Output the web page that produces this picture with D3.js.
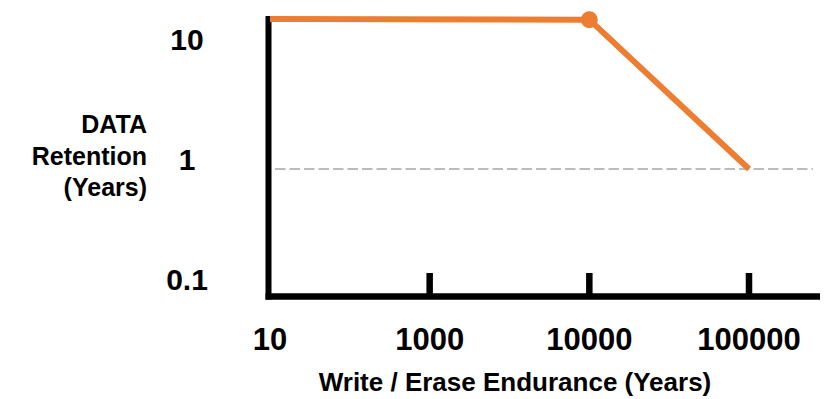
<!DOCTYPE html>
<html>
<head>
<meta charset="utf-8">
<script src="https://cdn.jsdelivr.net/npm/d3@7/dist/d3.min.js"></script>
<style>
  html, body { margin: 0; padding: 0; background: #fff; }
  text { font-family: "Liberation Sans", Arial, sans-serif; font-weight: bold; fill: #000; }
</style>
</head>
<body>
<div id="chart"></div>
<script>
// categories on the endurance axis (equally spaced, not a true log axis)
const enduranceLabels = ["10", "1000", "10000", "100000"];
// retention tick labels, top to bottom
const retentionLabels = ["10", "1", "0.1"];
// the retention curve
const curveX = ["10", "10000", "100000"];
const curveY = [10, 9.9, 1];
const markerAt = "10000";
const referenceLevel = 1;

const width = 828, height = 399;
const ORANGE = "#ED7D31";

const svg = d3.select("#chart").append("svg")
  .attr("width", width)
  .attr("height", height);

const x = d3.scalePoint().domain(enduranceLabels).range([270, 749]);
const y = d3.scaleLog().domain([1, 10]).range([169, 19]);
// labels on the left sit on their own even spacing
const yLabel = d3.scalePoint().domain(retentionLabels).range([39, 279]);

const axisLeftX = 268.5, axisBottomY = 296.5;

// reference dashed line at 1 year
svg.append("line")
  .attr("x1", 275).attr("x2", 813)
  .attr("y1", y(referenceLevel)).attr("y2", y(referenceLevel))
  .attr("stroke", "#a6a6a6")
  .attr("stroke-width", 1.5)
  .attr("stroke-dasharray", "10.5,4");

// frame
svg.append("line")
  .attr("x1", axisLeftX).attr("x2", axisLeftX)
  .attr("y1", 16).attr("y2", axisBottomY + 3)
  .attr("stroke", "#000").attr("stroke-width", 6);
svg.append("line")
  .attr("x1", axisLeftX - 3).attr("x2", 820)
  .attr("y1", axisBottomY).attr("y2", axisBottomY)
  .attr("stroke", "#000").attr("stroke-width", 6.5);

// x ticks (not at the first category, it sits on the y axis)
svg.append("g").selectAll("line")
  .data(enduranceLabels.slice(1))
  .join("line")
  .attr("x1", d => x(d)).attr("x2", d => x(d))
  .attr("y1", 273).attr("y2", axisBottomY)
  .attr("stroke", "#000").attr("stroke-width", 6.5);

// x labels
svg.append("g").selectAll("text")
  .data(enduranceLabels)
  .join("text")
  .attr("x", d => x(d))
  .attr("y", 350)
  .attr("text-anchor", "middle")
  .attr("font-size", "31px")
  .text(d => d);

svg.append("text")
  .attr("x", 515)
  .attr("y", 391)
  .attr("text-anchor", "middle")
  .attr("font-size", "26px")
  .text("Write / Erase Endurance (Years)");

// y labels
svg.append("g").selectAll("text")
  .data(retentionLabels)
  .join("text")
  .attr("x", 187)
  .attr("y", d => yLabel(d) + 11)
  .attr("text-anchor", "middle")
  .attr("font-size", "30px")
  .text(d => d);

// y title
const yTitle = svg.append("text")
  .attr("text-anchor", "end")
  .attr("font-size", "25px");
["DATA", "Retention", "(Years)"].forEach((t, i) => {
  yTitle.append("tspan").attr("x", 147).attr("y", 133 + i * 31.5).text(t);
});

// retention curve
const pts = curveX.map((d, i) => ({ x: d, y: curveY[i] }));
svg.append("path")
  .datum(pts)
  .attr("fill", "none")
  .attr("stroke", ORANGE)
  .attr("stroke-width", 6)
  .attr("d", d3.line().x(d => x(d.x)).y(d => y(d.y)));

svg.append("circle")
  .attr("cx", x(markerAt))
  .attr("cy", y(curveY[curveX.indexOf(markerAt)]))
  .attr("r", 8.5)
  .attr("fill", ORANGE);
</script>
</body>
</html>
